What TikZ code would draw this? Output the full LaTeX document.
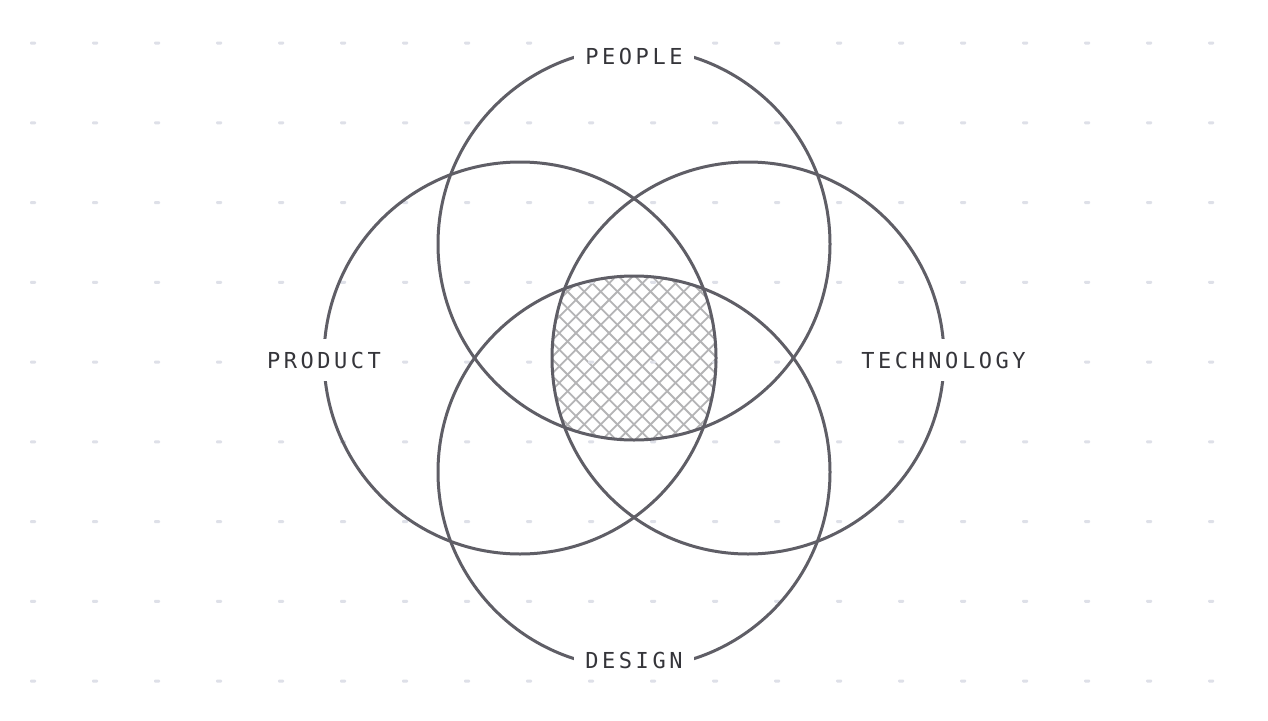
\documentclass[tikz,border=0pt]{standalone}
\usepackage{fontspec}
\newfontfamily\labelfont[LetterSpace=16]{DejaVu Sans Mono}
\definecolor{ringc}{HTML}{5F5E66}
\definecolor{labelc}{HTML}{35353A}
\definecolor{dotc}{HTML}{DEE0E8}
\definecolor{hatchc}{HTML}{B4B4B6}
\begin{document}
\begin{tikzpicture}[x=1pt,y=-1pt,
  ring/.style={draw=ringc, line width=3pt},
  lbl/.style={fill=white, inner xsep=11pt, inner ysep=13pt, text=labelc,
    font=\labelfont\fontsize{22}{26}\selectfont},
  hatchline/.style={draw=hatchc, line width=1.8pt},
  griddot/.style={fill=dotc, rounded corners=1pt}]
\useasboundingbox (0,0) rectangle (1268,720);
\fill[white] (0,0) rectangle (1268,720);
% cross hatch in the common region
\begin{scope}
  \clip (634,244) circle[radius=196pt];
  \clip (634,472) circle[radius=196pt];
  \clip (520,358) circle[radius=196pt];
  \clip (748,358) circle[radius=196pt];
  \foreach \k in {-14,...,14} {
    \draw[hatchline] (634+\k*16.6-120,238) -- ++(240,240);
    \draw[hatchline] (634+\k*16.6+120,238) -- ++(-240,240);
  }
\end{scope}
% dot grid
\foreach \i in {0,...,19} {
  \foreach \j in {0,...,8} {
    \fill[griddot] (30+62*\i,41.5+79.75*\j) rectangle ++(6,3);
  }
}
% circles
\draw[ring] (634,244) circle[radius=196pt];
\draw[ring] (634,472) circle[radius=196pt];
\draw[ring] (520,358) circle[radius=196pt];
\draw[ring] (748,358) circle[radius=196pt];
% labels
\node[lbl, inner ysep=10pt] (people) at (634,56) {PEOPLE};
\node[lbl] (product) at (324,360) {PRODUCT};
\node[lbl] (technology) at (943.5,360) {TECHNOLOGY};
\node[lbl, inner ysep=10pt] (design) at (634,660) {DESIGN};
\end{tikzpicture}
\end{document}
